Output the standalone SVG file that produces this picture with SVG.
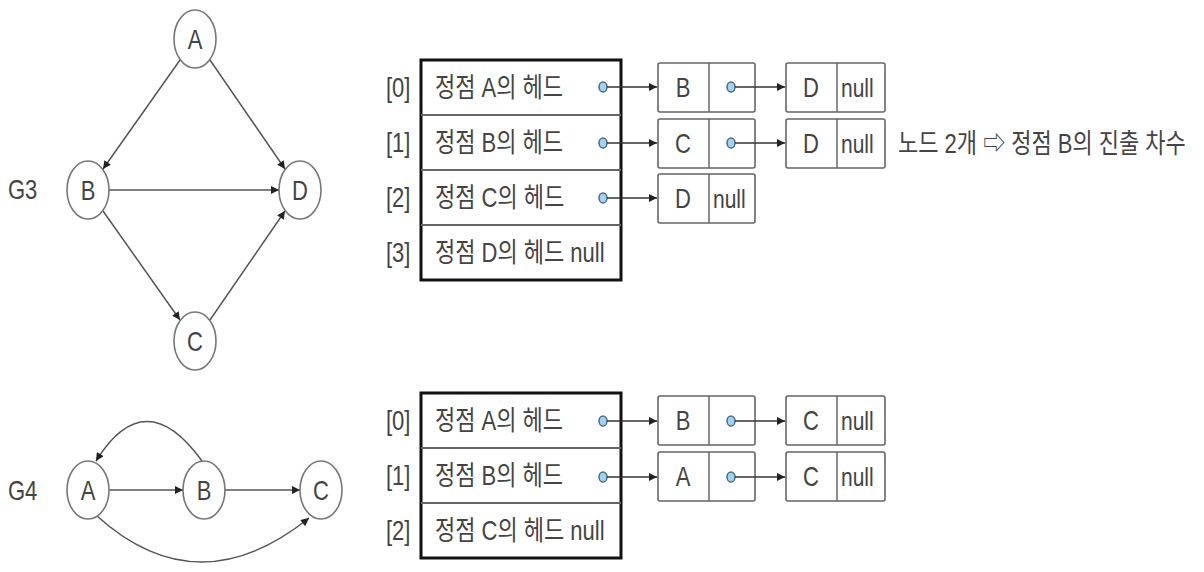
<svg xmlns="http://www.w3.org/2000/svg" width="1204" height="572" viewBox="0 0 1204 572">
<style>
text{font-family:"Liberation Sans","Noto Sans CJK KR",sans-serif;fill:#444;font-size:22px;transform-box:fill-box;transform-origin:center;transform:scaleY(1.25)}
.c{text-anchor:middle}
.n{font-size:21px}
.v{fill:#fff;stroke:#777;stroke-width:1.6}
.e{fill:none;stroke:#555;stroke-width:1.5}
.tbl{fill:#fff;stroke:#111;stroke-width:3}
.div{stroke:#666;stroke-width:2}
.nd{fill:#fff;stroke:#666;stroke-width:1.6}
.dv{stroke:#666;stroke-width:1.5}
.dot{fill:#9fd3f0;stroke:#4d6b82;stroke-width:1.5}
.p{stroke:#333;stroke-width:1.3}
</style>
<defs>
<marker id="ah" viewBox="0 0 10 10" refX="10" refY="5" markerWidth="10" markerHeight="8" markerUnits="userSpaceOnUse" orient="auto">
<path d="M0,0 L10,5 L0,10 z" fill="#222"/>
</marker>
</defs>

<!-- G3 graph -->
<text x="8" y="197">G3</text>
<g id="g3-connectors">
<line class="e" x1="180" y1="60" x2="103" y2="169" marker-end="url(#ah)"/>
<line class="e" x1="210" y1="60" x2="285" y2="169" marker-end="url(#ah)"/>
<line class="e" x1="109" y1="190" x2="279" y2="190" marker-end="url(#ah)"/>
<line class="e" x1="103" y1="211" x2="180" y2="320" marker-end="url(#ah)"/>
<line class="e" x1="210" y1="320" x2="285" y2="211" marker-end="url(#ah)"/>
</g>
<g id="g3-A"><ellipse class="v" cx="195" cy="39" rx="21" ry="29"/><text class="c" x="195" y="47">A</text></g>
<g id="g3-B"><ellipse class="v" cx="88" cy="190" rx="21" ry="29"/><text class="c" x="88" y="198">B</text></g>
<g id="g3-C"><ellipse class="v" cx="195" cy="341" rx="21" ry="29"/><text class="c" x="195" y="349">C</text></g>
<g id="g3-D"><ellipse class="v" cx="300" cy="190" rx="21" ry="29"/><text class="c" x="300" y="198">D</text></g>

<!-- G3 adjacency list -->
<g id="g3-table">
<rect class="tbl" x="421" y="60" width="200" height="220"/>
<line class="div" x1="421" y1="115" x2="621" y2="115"/>
<line class="div" x1="421" y1="170" x2="621" y2="170"/>
<line class="div" x1="421" y1="225" x2="621" y2="225"/>
<text x="386" y="95">[0]</text>
<text x="386" y="150">[1]</text>
<text x="386" y="205">[2]</text>
<text x="386" y="260">[3]</text>
<text x="435" y="95">정점 A의 헤드</text>
<text x="435" y="150">정점 B의 헤드</text>
<text x="435" y="205">정점 C의 헤드</text>
<text x="435" y="260">정점 D의 헤드 null</text>
<ellipse class="dot" cx="603" cy="87" rx="4" ry="5"/>
<ellipse class="dot" cx="603" cy="143" rx="4" ry="5"/>
<ellipse class="dot" cx="603" cy="198" rx="4" ry="5"/>
</g>
<g id="g3-n0a"><rect class="nd" x="658" y="63" width="97" height="49" rx="2"/><line class="dv" x1="709" y1="63" x2="709" y2="112"/><text class="c" x="683" y="95">B</text><ellipse class="dot" cx="731" cy="87" rx="4" ry="5"/></g>
<g id="g3-n0b"><rect class="nd" x="786" y="63" width="99" height="49" rx="2"/><line class="dv" x1="837" y1="63" x2="837" y2="112"/><text class="c" x="811" y="95">D</text><text class="n" x="841" y="95">null</text></g>
<g id="g3-n1a"><rect class="nd" x="658" y="119" width="97" height="49" rx="2"/><line class="dv" x1="709" y1="119" x2="709" y2="168"/><text class="c" x="683" y="151">C</text><ellipse class="dot" cx="731" cy="143" rx="4" ry="5"/></g>
<g id="g3-n1b"><rect class="nd" x="786" y="119" width="99" height="49" rx="2"/><line class="dv" x1="837" y1="119" x2="837" y2="168"/><text class="c" x="811" y="151">D</text><text class="n" x="841" y="151">null</text></g>
<g id="g3-n2a"><rect class="nd" x="658" y="174" width="97" height="49" rx="2"/><line class="dv" x1="709" y1="174" x2="709" y2="223"/><text class="c" x="683" y="206">D</text><text class="n" x="713" y="206">null</text></g>
<text x="898" y="151">노드 2개 ⇨ 정점 B의 진출 차수</text>
<g id="g3-list-connectors">
<line class="p" x1="607" y1="87" x2="657" y2="87" marker-end="url(#ah)"/>
<line class="p" x1="735" y1="87" x2="785" y2="87" marker-end="url(#ah)"/>
<line class="p" x1="607" y1="143" x2="657" y2="143" marker-end="url(#ah)"/>
<line class="p" x1="735" y1="143" x2="785" y2="143" marker-end="url(#ah)"/>
<line class="p" x1="607" y1="198" x2="657" y2="198" marker-end="url(#ah)"/>
</g>

<!-- G4 graph -->
<text x="8" y="498">G4</text>
<g id="g4-connectors">
<line class="e" x1="109" y1="490" x2="183" y2="490" marker-end="url(#ah)"/>
<line class="e" x1="225" y1="490" x2="300" y2="490" marker-end="url(#ah)"/>
<path class="e" d="M202 461 Q145 382 96 461" marker-end="url(#ah)"/>
<path class="e" d="M97 516 Q198 607 309 518" marker-end="url(#ah)"/>
</g>
<g id="g4-A"><ellipse class="v" cx="88" cy="490" rx="21" ry="29"/><text class="c" x="88" y="498">A</text></g>
<g id="g4-B"><ellipse class="v" cx="204" cy="490" rx="21" ry="29"/><text class="c" x="204" y="498">B</text></g>
<g id="g4-C"><ellipse class="v" cx="321" cy="490" rx="21" ry="29"/><text class="c" x="321" y="498">C</text></g>

<!-- G4 adjacency list -->
<g id="g4-table">
<rect class="tbl" x="421" y="393" width="200" height="165"/>
<line class="div" x1="421" y1="448" x2="621" y2="448"/>
<line class="div" x1="421" y1="503" x2="621" y2="503"/>
<text x="386" y="428">[0]</text>
<text x="386" y="483">[1]</text>
<text x="386" y="538">[2]</text>
<text x="435" y="428">정점 A의 헤드</text>
<text x="435" y="483">정점 B의 헤드</text>
<text x="435" y="538">정점 C의 헤드 null</text>
<ellipse class="dot" cx="603" cy="421" rx="4" ry="5"/>
<ellipse class="dot" cx="603" cy="477" rx="4" ry="5"/>
</g>
<g id="g4-n0a"><rect class="nd" x="658" y="396" width="97" height="49" rx="2"/><line class="dv" x1="709" y1="396" x2="709" y2="445"/><text class="c" x="683" y="428">B</text><ellipse class="dot" cx="731" cy="421" rx="4" ry="5"/></g>
<g id="g4-n0b"><rect class="nd" x="786" y="396" width="99" height="49" rx="2"/><line class="dv" x1="837" y1="396" x2="837" y2="445"/><text class="c" x="811" y="428">C</text><text class="n" x="841" y="428">null</text></g>
<g id="g4-n1a"><rect class="nd" x="658" y="452" width="97" height="49" rx="2"/><line class="dv" x1="709" y1="452" x2="709" y2="501"/><text class="c" x="683" y="484">A</text><ellipse class="dot" cx="731" cy="477" rx="4" ry="5"/></g>
<g id="g4-n1b"><rect class="nd" x="786" y="452" width="99" height="49" rx="2"/><line class="dv" x1="837" y1="452" x2="837" y2="501"/><text class="c" x="811" y="484">C</text><text class="n" x="841" y="484">null</text></g>
<g id="g4-list-connectors">
<line class="p" x1="607" y1="421" x2="657" y2="421" marker-end="url(#ah)"/>
<line class="p" x1="735" y1="421" x2="785" y2="421" marker-end="url(#ah)"/>
<line class="p" x1="607" y1="477" x2="657" y2="477" marker-end="url(#ah)"/>
<line class="p" x1="735" y1="477" x2="785" y2="477" marker-end="url(#ah)"/>
</g>
</svg>
